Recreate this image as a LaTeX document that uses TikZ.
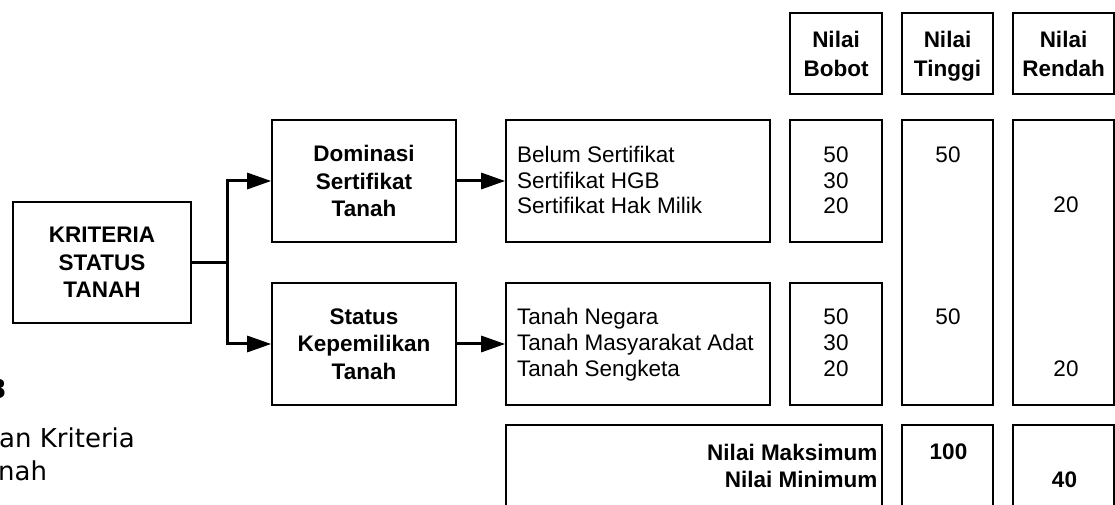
\documentclass[tikz,border=0pt]{standalone}
\usepackage{fontspec}
\setmainfont{Liberation Sans}
\newfontfamily\capfont{DejaVu Sans}
\usetikzlibrary{arrows.meta}
\newcommand{\boldlab}{\fontsize{22.5bp}{27.5bp}\selectfont\bfseries}
\newcommand{\headlab}{\fontsize{22.5bp}{29bp}\selectfont\bfseries}
\newcommand{\plainlab}{\fontsize{22.5bp}{25.3bp}\selectfont}
\newcommand{\captlab}{\capfont\fontsize{26bp}{33bp}\selectfont}
\begin{document}
\begin{tikzpicture}[x=1bp,y=-1bp,
  box/.style={draw, line width=1.6bp, inner sep=0pt, align=center, font=\boldlab},
  hbox/.style={box, font=\headlab, minimum height=81bp},
  entry/.style={inner sep=0pt, font=\plainlab},
  bentry/.style={inner sep=0pt, font=\boldlab},
  capt/.style={inner sep=0pt, font=\captlab, anchor=base west},
  conn/.style={line width=3bp},
  conn arrow/.style={conn, -{Triangle[length=24bp,width=16bp]}}]
\useasboundingbox (0,0) rectangle (1115,505);
\clip (0,0) rectangle (1115,505);

% criteria tree
\node[box, minimum width=178bp, minimum height=121bp] (krit) at (102,262.5) {KRITERIA\\STATUS\\TANAH};
\node[box, minimum width=184bp, minimum height=122bp] (dom) at (364,181) {Dominasi\\Sertifikat\\Tanah};
\node[box, minimum width=184bp, minimum height=122bp] (stat) at (364,344) {Status\\Kepemilikan\\Tanah};
\node[box, minimum width=264bp, minimum height=122bp] (items1) at (638,181) {};
\node[box, minimum width=264bp, minimum height=122bp] (items2) at (638,344) {};

\coordinate (split) at (227,262.5);
\draw[conn] (krit.east) -- (split);
\draw[conn arrow] (split) |- (dom.west);
\draw[conn arrow] (split) |- (stat.west);
\draw[conn arrow] (dom.east) -- (items1.west);
\draw[conn arrow] (stat.east) -- (items2.west);

% sub-criteria
\node[entry, anchor=base west] (i1a) at (517,163) {Belum Sertifikat};
\node[entry, anchor=base west] (i1b) at (517,188.5) {Sertifikat HGB};
\node[entry, anchor=base west] (i1c) at (517,214) {Sertifikat Hak Milik};
\node[entry, anchor=base west] (i2a) at (517,325) {Tanah Negara};
\node[entry, anchor=base west] (i2b) at (517,351) {Tanah Masyarakat Adat};
\node[entry, anchor=base west] (i2c) at (517,377) {Tanah Sengketa};

% column headers
\node[hbox, minimum width=92bp] (hbobot) at (836,53.5) {Nilai\\Bobot};
\node[hbox, minimum width=91bp] (htinggi) at (947.5,53.5) {Nilai\\\raisebox{0pt}[\height][0pt]{Tinggi}};
\node[hbox, minimum width=101bp] (hrendah) at (1063.5,53.5) {Nilai\\Rendah};

% weights
\node[box, minimum width=92bp, minimum height=122bp] (bobot1) at (836,181) {};
\node[box, minimum width=92bp, minimum height=122bp] (bobot2) at (836,344) {};
\node[entry, anchor=base] (b1a) at (836,163) {50};
\node[entry, anchor=base] (b1b) at (836,188.5) {30};
\node[entry, anchor=base] (b1c) at (836,214) {20};
\node[entry, anchor=base] (b2a) at (836,325) {50};
\node[entry, anchor=base] (b2b) at (836,351) {30};
\node[entry, anchor=base] (b2c) at (836,377) {20};

% highest and lowest values
\node[box, minimum width=91bp, minimum height=285bp] (tinggi) at (947.5,262.5) {};
\node[box, minimum width=101bp, minimum height=285bp] (rendah) at (1063.5,262.5) {};
\node[entry, anchor=base] (t1) at (948,163) {50};
\node[entry, anchor=base] (t2) at (948,325) {50};
\node[entry, anchor=base] (r1) at (1066,213) {20};
\node[entry, anchor=base] (r2) at (1066,377) {20};

% totals
\node[box, minimum width=376bp, minimum height=120bp] (totlab) at (694,485) {};
\node[box, minimum width=91bp, minimum height=120bp] (tottinggi) at (947.5,485) {};
\node[box, minimum width=101bp, minimum height=120bp] (totrendah) at (1063.5,485) {};
\node[bentry, anchor=base east] (maks) at (877.5,460) {Nilai Maksimum};
\node[bentry, anchor=base east] (mini) at (877.5,487) {Nilai Minimum};
\node[bentry, anchor=base] (vmaks) at (948.5,459) {100};
\node[bentry, anchor=base] (vmin) at (1064.5,487) {40};

% caption
\node[capt, font=\captlab\bfseries] (capnum) at (-11.5,398) {3};
\node[capt] (capa) at (-1,447) {an Kriteria};
\node[capt] (capb) at (-2,480) {nah};
\end{tikzpicture}
\end{document}
